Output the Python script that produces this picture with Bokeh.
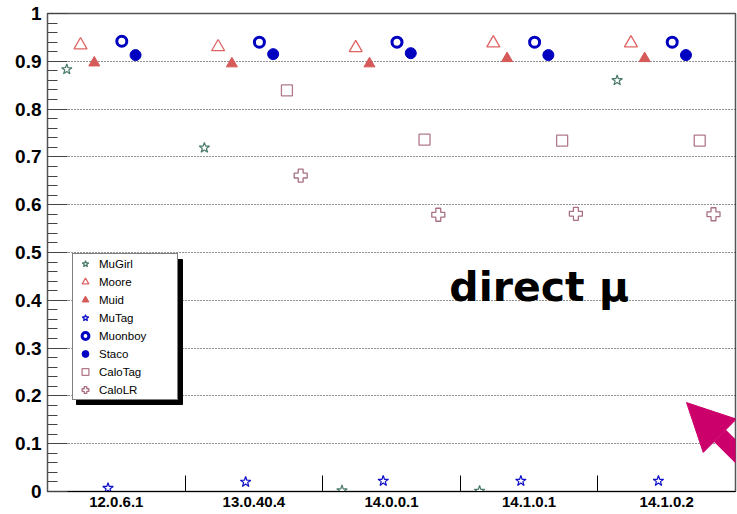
import math
from bokeh.plotting import figure
from bokeh.models import (Range1d, FixedTicker, SingleIntervalTicker, CustomJSTickFormatter,
                          Legend, LegendItem, Arrow, NormalHead, BoxAnnotation)
from bokeh.core.properties import value
from bokeh.embed import file_html
from bokeh.resources import INLINE

# ---------------- data ----------------
releases = ["12.0.6.1", "13.0.40.4", "14.0.0.1", "14.1.0.1", "14.1.0.2"]
nan = float("nan")
mugirl  = [0.883, 0.719, 0.002, 0.001, 0.860]
moore   = [0.934, 0.930, 0.928, 0.938, 0.938]
muid    = [0.897, 0.895, 0.895, 0.906, 0.906]
mutag   = [0.007, 0.020, 0.022, 0.022, 0.022]
muonboy = [0.942, 0.940, 0.940, 0.940, 0.940]
staco   = [0.913, 0.915, 0.917, 0.913, 0.913]
calotag = [nan, 0.839, 0.736, 0.734, 0.734]
calolr  = [nan, 0.661, 0.579, 0.581, 0.580]

series_names = ["MuGirl", "Moore", "Muid", "MuTag", "Muonboy", "Staco", "CaloTag", "CaloLR"]
series_values = [mugirl, moore, muid, mutag, muonboy, staco, calotag, calolr]

# ---------------- styles ----------------
styles = [
    dict(marker="star",     size=11, fill_color="white",   line_color="#4a7a68", line_width=1.2),
    dict(marker="triangle", size=13, fill_color="white",   line_color="#e06464", line_width=1.3),
    dict(marker="triangle", size=11, fill_color="#d65a5a", line_color="#d65a5a", line_width=1),
    dict(marker="star",     size=11, fill_color="white",   line_color="#1010c8", line_width=1.2),
    dict(marker="circle",   size=10, fill_color="white",   line_color="#0000c0", line_width=3),
    dict(marker="circle",   size=11, fill_color="#0000c0", line_color="#0000c0", line_width=1),
    dict(marker="square",   size=11, fill_color="white",   line_color="#b07a88", line_width=1.3),
    dict(marker="plus",     size=13, fill_color="white",   line_color="#a87080", line_width=1.3),
]
FIRST_OFFSET, STEP = 0.14, 0.10
MAG = "#cc006a"
LABEL_POS = (2.92, 0.427)
ARROW_TIP = (4.644, 0.186)
ARROW_TAIL = (5.30, -0.002)
LEG_X, LEG_Y, LEG_W, LEG_H, SHADOW = 25, 91, 106, 145, 4

p = figure(width=737, height=514, x_range=Range1d(0, 5), y_range=Range1d(0, 1),
           output_backend="svg", toolbar_location=None,
           min_border_left=47, min_border_right=2, min_border_top=13, min_border_bottom=23)
p.outline_line_color = "#555555"
p.outline_line_width = 1.5
p.background_fill_color = "white"

# x axis: labels at bin centres, separators at bin edges
centers = [i + 0.5 for i in range(len(releases))]
edges = [i for i in range(1, len(releases))]
p.xaxis.ticker = FixedTicker(ticks=centers, minor_ticks=edges)
p.xaxis.major_label_overrides = {c: r for c, r in zip(centers, releases)}
p.xaxis.major_tick_in = 0
p.xaxis.major_tick_out = 0
p.xaxis.minor_tick_in = 16
p.xaxis.minor_tick_out = 0
p.xaxis.minor_tick_line_color = "black"
p.xaxis.axis_line_color = "black"
p.xaxis.major_label_text_font = "Liberation Sans"
p.xaxis.major_label_text_font_style = "bold"
p.xaxis.major_label_text_font_size = "15px"
p.xaxis.major_label_text_color = "black"
p.xaxis.major_label_standoff = 5

p.yaxis.ticker = SingleIntervalTicker(interval=0.1, num_minor_ticks=5)
p.yaxis.formatter = CustomJSTickFormatter(code="return tick.toFixed(1).replace(/\\.0$/, '')")
p.yaxis.major_tick_in = 20
p.yaxis.major_tick_out = 0
p.yaxis.minor_tick_in = 10
p.yaxis.minor_tick_out = 0
p.yaxis.major_tick_line_color = "#444444"
p.yaxis.minor_tick_line_color = "#444444"
p.yaxis.axis_line_color = "#555555"
p.yaxis.major_label_text_font = "Liberation Sans"
p.yaxis.major_label_text_font_style = "bold"
p.yaxis.major_label_text_font_size = "19px"
p.yaxis.major_label_text_color = "black"
p.yaxis.major_label_standoff = 6

p.xgrid.visible = False
p.ygrid.grid_line_color = "#222222"
p.ygrid.grid_line_dash = "1 2"
p.ygrid.grid_line_width = 1

# label text
p.text(x=[LABEL_POS[0]], y=[LABEL_POS[1]], text=["direct μ"], text_font=value("DejaVu Sans"),
       text_font_style="bold", text_font_size="41px", text_baseline="alphabetic",
       text_color="black")

renderers = []
for k, (name, vals, st) in enumerate(zip(series_names, series_values, styles)):
    xs = [i + FIRST_OFFSET + STEP * k for i in range(len(vals))]
    r = p.scatter(x=xs, y=vals, **st)
    renderers.append(r)

# legend drop shadow (frame-relative screen units, same system as the legend location)
p.add_layout(BoxAnnotation(left=LEG_X + SHADOW, right=LEG_X + LEG_W + SHADOW,
                           bottom=LEG_Y - SHADOW, top=LEG_Y + LEG_H - SHADOW,
                           left_units="screen", right_units="screen",
                           bottom_units="screen", top_units="screen",
                           fill_color="black", fill_alpha=1, line_color="black",
                           line_alpha=1))

main = Legend(items=[LegendItem(label=n, renderers=[r]) for n, r in zip(series_names, renderers)],
              location=(LEG_X, LEG_Y), background_fill_color="white", background_fill_alpha=1,
              border_line_color="black", border_line_width=1,
              label_text_font="Liberation Sans", label_text_font_size="11.5px",
              label_text_color="black",
              glyph_width=22, glyph_height=17, label_height=17, label_width=77,
              spacing=1, padding=1, label_standoff=3, margin=0)
p.add_layout(main)

p.add_layout(Arrow(end=NormalHead(size=47, fill_color=MAG, line_color=MAG),
                   x_start=ARROW_TAIL[0], y_start=ARROW_TAIL[1],
                   x_end=ARROW_TIP[0], y_end=ARROW_TIP[1],
                   line_color=MAG, line_width=17))

open("out.html", "w").write(file_html(p, INLINE))
